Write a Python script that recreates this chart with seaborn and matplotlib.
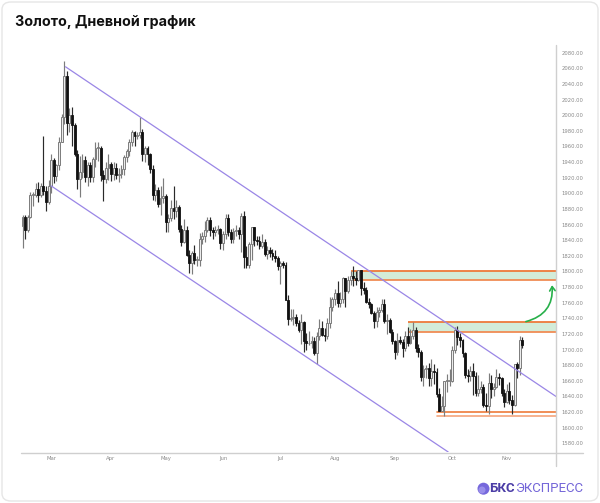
import numpy as np
import pandas as pd
import matplotlib
matplotlib.use("Agg")
import matplotlib.pyplot as plt
import seaborn as sns
from matplotlib.patches import FancyBboxPatch, FancyArrowPatch, Ellipse
from matplotlib.lines import Line2D

# ---------------- data ----------------
dates = pd.bdate_range("2022-02-14", "2022-11-09")

opens = [1858, 1870, 1853, 1870, 1898, 1898, 1906, 1898, 1910, 1903, 1889,
         1909, 1943, 1922, 1936, 1966, 1998, 2050, 1990, 2000, 1988,
         1951, 1918, 1927, 1943, 1921, 1936, 1921, 1944, 1958, 1958,
         1923, 1919, 1933, 1937, 1925, 1932, 1923, 1925, 1931, 1947,
         1954, 1966, 1978, 1974, 1975, 1979, 1950, 1958, 1951, 1931,
         1898, 1904, 1886, 1894, 1896, 1863, 1868, 1881, 1877, 1883,
         1854, 1838, 1853, 1821, 1811, 1824, 1815, 1815, 1841, 1846,
         1853, 1866, 1853, 1851, 1853, 1855, 1837, 1848, 1869, 1851,
         1841, 1852, 1853, 1848, 1871, 1819, 1808, 1835, 1857, 1840,
         1839, 1832, 1838, 1822, 1827, 1823, 1820, 1817, 1807, 1811,
         1808, 1764, 1739, 1740, 1742, 1734, 1725, 1735, 1711, 1708,
         1709, 1711, 1696, 1718, 1727, 1719, 1717, 1734, 1755, 1765,
         1772, 1760, 1765, 1791, 1775, 1789, 1794, 1792, 1789, 1802,
         1779, 1776, 1761, 1758, 1747, 1736, 1748, 1751, 1758, 1737,
         1738, 1723, 1711, 1697, 1712, 1710, 1702, 1718, 1708, 1717,
         1725, 1702, 1697, 1665, 1675, 1676, 1664, 1673, 1671, 1643,
         1622, 1628, 1660, 1660, 1660, 1699, 1725, 1716, 1712, 1695,
         1668, 1666, 1673, 1666, 1644, 1650, 1652, 1629, 1628, 1657,
         1649, 1652, 1665, 1663, 1644, 1633, 1647, 1635, 1629, 1681,
         1676, 1712]

highs = [1872, 1872, 1872, 1902, 1902, 1913, 1914, 1913, 1974, 1909, 1917,
         1950, 1945, 1937, 1972, 2001, 2070, 2056, 2009, 2010, 1990,
         1955, 1948, 1950, 1948, 1940, 1940, 1947, 1966, 1966, 1960,
         1930, 1940, 1950, 1940, 1940, 1939, 1932, 1936, 1949, 1957,
         1970, 1981, 1980, 1979, 1998, 1982, 1961, 1960, 1952, 1936,
         1912, 1908, 1909, 1920, 1899, 1873, 1891, 1909, 1892, 1885,
         1860, 1867, 1858, 1827, 1826, 1834, 1820, 1849, 1850, 1865,
         1870, 1870, 1857, 1858, 1859, 1856, 1852, 1874, 1874, 1855,
         1856, 1860, 1857, 1875, 1878, 1832, 1838, 1857, 1857, 1846,
         1845, 1848, 1841, 1832, 1831, 1829, 1828, 1820, 1814, 1813,
         1812, 1770, 1752, 1752, 1745, 1738, 1745, 1737, 1721, 1724,
         1718, 1716, 1722, 1739, 1737, 1727, 1740, 1767, 1767, 1777,
         1788, 1774, 1793, 1792, 1794, 1800, 1807, 1800, 1802, 1802,
         1786, 1780, 1766, 1760, 1750, 1754, 1754, 1765, 1765, 1745,
         1740, 1726, 1712, 1721, 1718, 1713, 1724, 1729, 1726, 1735,
         1729, 1707, 1699, 1680, 1680, 1683, 1688, 1681, 1676, 1651,
         1641, 1660, 1669, 1675, 1704, 1729, 1730, 1721, 1714, 1697,
         1675, 1679, 1683, 1671, 1667, 1660, 1656, 1645, 1670, 1668,
         1657, 1675, 1670, 1665, 1649, 1656, 1659, 1642, 1681, 1684,
         1717, 1716]

lows = [1830, 1842, 1850, 1868, 1884, 1895, 1889, 1895, 1898, 1878, 1887,
        1900, 1913, 1916, 1930, 1966, 1989, 1975, 1979, 1960, 1948,
        1906, 1895, 1920, 1915, 1910, 1914, 1915, 1934, 1942, 1916,
        1890, 1913, 1917, 1916, 1917, 1918, 1915, 1920, 1924, 1940,
        1948, 1960, 1960, 1970, 1971, 1942, 1940, 1936, 1926, 1891,
        1890, 1883, 1872, 1888, 1850, 1850, 1865, 1867, 1870, 1850,
        1832, 1836, 1820, 1798, 1797, 1810, 1807, 1807, 1835, 1838,
        1850, 1845, 1842, 1845, 1848, 1829, 1828, 1842, 1846, 1836,
        1837, 1845, 1842, 1825, 1805, 1805, 1805, 1815, 1832, 1834,
        1829, 1830, 1820, 1816, 1818, 1815, 1812, 1802, 1784, 1805,
        1763, 1732, 1736, 1732, 1730, 1722, 1707, 1697, 1699, 1706,
        1702, 1693, 1681, 1712, 1717, 1711, 1714, 1728, 1749, 1757,
        1755, 1754, 1760, 1754, 1773, 1783, 1782, 1783, 1788, 1770,
        1771, 1759, 1753, 1745, 1727, 1729, 1742, 1748, 1734, 1720,
        1721, 1707, 1688, 1693, 1707, 1691, 1698, 1704, 1707, 1714,
        1697, 1690, 1660, 1654, 1663, 1654, 1654, 1656, 1639, 1621,
        1621, 1615, 1646, 1654, 1659, 1696, 1706, 1703, 1690, 1664,
        1659, 1660, 1642, 1640, 1640, 1645, 1626, 1621, 1618, 1638,
        1640, 1651, 1655, 1640, 1626, 1632, 1630, 1617, 1628, 1664,
        1668, 1702]

closes = [1870, 1853, 1870, 1898, 1898, 1906, 1898, 1910, 1903, 1889, 1909,
          1943, 1922, 1936, 1966, 1998, 2050, 1990, 2000, 1988, 1951,
          1918, 1927, 1943, 1921, 1936, 1921, 1944, 1958, 1958, 1923,
          1919, 1933, 1937, 1925, 1932, 1923, 1925, 1931, 1947, 1954,
          1966, 1978, 1974, 1975, 1979, 1950, 1958, 1951, 1931, 1898,
          1904, 1886, 1894, 1896, 1863, 1868, 1881, 1877, 1883, 1854,
          1838, 1853, 1821, 1811, 1824, 1815, 1815, 1841, 1846, 1853,
          1866, 1853, 1851, 1853, 1855, 1837, 1848, 1869, 1851, 1841,
          1852, 1853, 1848, 1871, 1819, 1808, 1835, 1857, 1840, 1839,
          1832, 1838, 1822, 1827, 1823, 1820, 1817, 1807, 1811, 1808,
          1764, 1739, 1740, 1742, 1734, 1725, 1735, 1711, 1708, 1709,
          1711, 1696, 1718, 1727, 1719, 1717, 1734, 1755, 1765, 1772,
          1760, 1765, 1791, 1775, 1789, 1794, 1792, 1789, 1802, 1779,
          1776, 1761, 1758, 1747, 1736, 1748, 1751, 1758, 1737, 1738,
          1723, 1711, 1697, 1712, 1710, 1702, 1718, 1708, 1717, 1725,
          1702, 1697, 1665, 1675, 1676, 1664, 1673, 1671, 1643, 1622,
          1628, 1660, 1660, 1660, 1699, 1725, 1716, 1712, 1695, 1668,
          1666, 1673, 1666, 1644, 1650, 1652, 1629, 1628, 1657, 1649,
          1652, 1665, 1663, 1644, 1633, 1647, 1635, 1629, 1681, 1676,
          1712, 1706]

month_labels = ["Mar", "Apr", "May", "Jun", "Jul", "Aug", "Sep", "Oct", "Nov"]
ytick_values = list(range(1580, 2081, 20))

# channel lines (bar index, price)
channel_upper_x = [16.5, 204.9]
channel_upper_y = [2062, 1640]
channel_lower_x = [11.0, 163.5]
channel_lower_y = [1909.5, 1568.9]

# resistance zones: (start index, low, high)
zone_starts = [126, 148]
zone_lows = [1789, 1722.5]
zone_highs = [1801, 1735]
# support lines
support_start = 159
support_levels = [1620, 1615]

# arrow (bar index, price)
arrow_from = (192.3, 1735)
arrow_to = (203.3, 1786)

title = "Золото, Дневной график"

# ---------------- figure ----------------
sns.set_theme(style="white")
plt.rcParams["font.family"] = ["DejaVu Sans"]

W, H = 600, 503
fig = plt.figure(figsize=(W / 100, H / 100), dpi=100, facecolor="white")
ax = fig.add_axes([21 / W, 1 - 452 / H, (556 - 21) / W, (452 - 45) / H])
ax.set_facecolor("white")

df = pd.DataFrame({"date": dates, "open": opens, "high": highs,
                   "low": lows, "close": closes})
df["i"] = np.arange(len(df))
up = df["close"] >= df["open"]

# zones
for s, lo, hi in zip(zone_starts, zone_lows, zone_highs):
    ax.fill_between([s, 205], lo, hi, color="#d3ecd9", zorder=1, lw=0)
    ax.plot([s, 205], [hi, hi], color="#ee7a3a", lw=1.3, zorder=2,
            solid_capstyle="butt")
    ax.plot([s, 205], [lo, lo], color="#f08c55", lw=1.3, zorder=2,
            solid_capstyle="butt")
ax.plot([support_start, 205], [support_levels[0]] * 2, color="#ee7a3a",
        lw=1.2, zorder=2)
ax.plot([support_start, 205], [support_levels[1]] * 2, color="#f5a47c",
        lw=1.2, zorder=2)

# wicks
ax.vlines(df["i"][up], df["low"][up], df["high"][up], color="#7c7c7c",
          lw=0.85, zorder=3)
ax.vlines(df["i"][~up], df["low"][~up], df["high"][~up], color="#2a2a2a",
          lw=0.85, zorder=3)
# bodies
body_w = 0.72
hgt = (df["close"] - df["open"]).abs().clip(lower=0.8)
bot = df[["open", "close"]].min(axis=1)
ax.bar(df["i"][up], hgt[up], bottom=bot[up], width=body_w,
       facecolor="#ececec", edgecolor="#7c7c7c", lw=0.7, zorder=4)
ax.bar(df["i"][~up], hgt[~up], bottom=bot[~up], width=body_w,
       facecolor="#111111", edgecolor="#111111", lw=0.6, zorder=4)

# channel
chan = pd.DataFrame({"x": channel_upper_x + channel_lower_x,
                     "y": channel_upper_y + channel_lower_y,
                     "line": ["u", "u", "l", "l"]})
sns.lineplot(data=chan, x="x", y="y", units="line", estimator=None,
             color="#9a86e6", lw=0.9, ax=ax, zorder=5, legend=False)

# arrow
arr = FancyArrowPatch(arrow_from, arrow_to, connectionstyle="arc3,rad=0.45",
                      arrowstyle="->,head_length=3,head_width=2",
                      color="#27b04a", lw=1.2, zorder=6, clip_on=False)
ax.add_patch(arr)

ax.set_xlim(-0.6, 204.9)
ax.set_ylim(1568.9, 2089.9)

# ticks
month_pos = [int(df.index[(df["date"].dt.month == m)][0])
             for m in range(3, 12)]
ax.set_xticks(month_pos)
ax.set_xticklabels(month_labels, fontsize=3.8, color="#8a8a8a")
ax.yaxis.tick_right()
ax.set_yticks(ytick_values)
ax.set_yticklabels([f"{v:.2f}" for v in ytick_values], fontsize=3.8,
                   color="#8a8a8a")
ax.tick_params(axis="both", length=0, pad=4)
ax.tick_params(axis="x", pad=3)
ax.set_xlabel("")
ax.set_ylabel("")
for sp in ax.spines.values():
    sp.set_visible(False)

# axis lines extending beyond the plot box (figure pixels)
fig.add_artist(Line2D([21 / W, 583 / W], [1 - 452.5 / H] * 2,
                      color="#cfcfcf", lw=1.0))
fig.add_artist(Line2D([556 / W] * 2, [1 - 45 / H, 1 - 466 / H],
                      color="#cfcfcf", lw=1.0))

# title
fig.text(15 / W, 1 - 22 / H, title, fontsize=10.3, fontweight="bold",
         color="#111111", va="center", ha="left", family="Inter")

# logo
fig.add_artist(Ellipse((483.5 / W, 1 - 488.7 / H), 12 / W, 12 / H,
                       facecolor="#7668dc", edgecolor="none"))
fig.add_artist(Ellipse((482 / W, 1 - 490 / H), 7 / W, 7 / H,
                       facecolor="#a99ff0", edgecolor="none", alpha=0.7))
fig.text(489 / W, 1 - 489 / H, "БКС", fontsize=9.5, fontweight="bold",
         color="#4b3da6", va="center", ha="left", family="Roboto")
fig.text(515.5 / W, 1 - 489 / H, "ЭКСПРЕСС", fontsize=9.5,
         color="#7466d8", va="center", ha="left", family="Roboto")

# card border
fig.add_artist(FancyBboxPatch((2 / W, 2 / H), (W - 4) / W, (H - 4) / H,
                              boxstyle="round,pad=0,rounding_size=0.015",
                              transform=fig.transFigure, facecolor="none",
                              edgecolor="#e6e6e6", lw=1.0))

fig.savefig("out.png", dpi=100, facecolor="white")
